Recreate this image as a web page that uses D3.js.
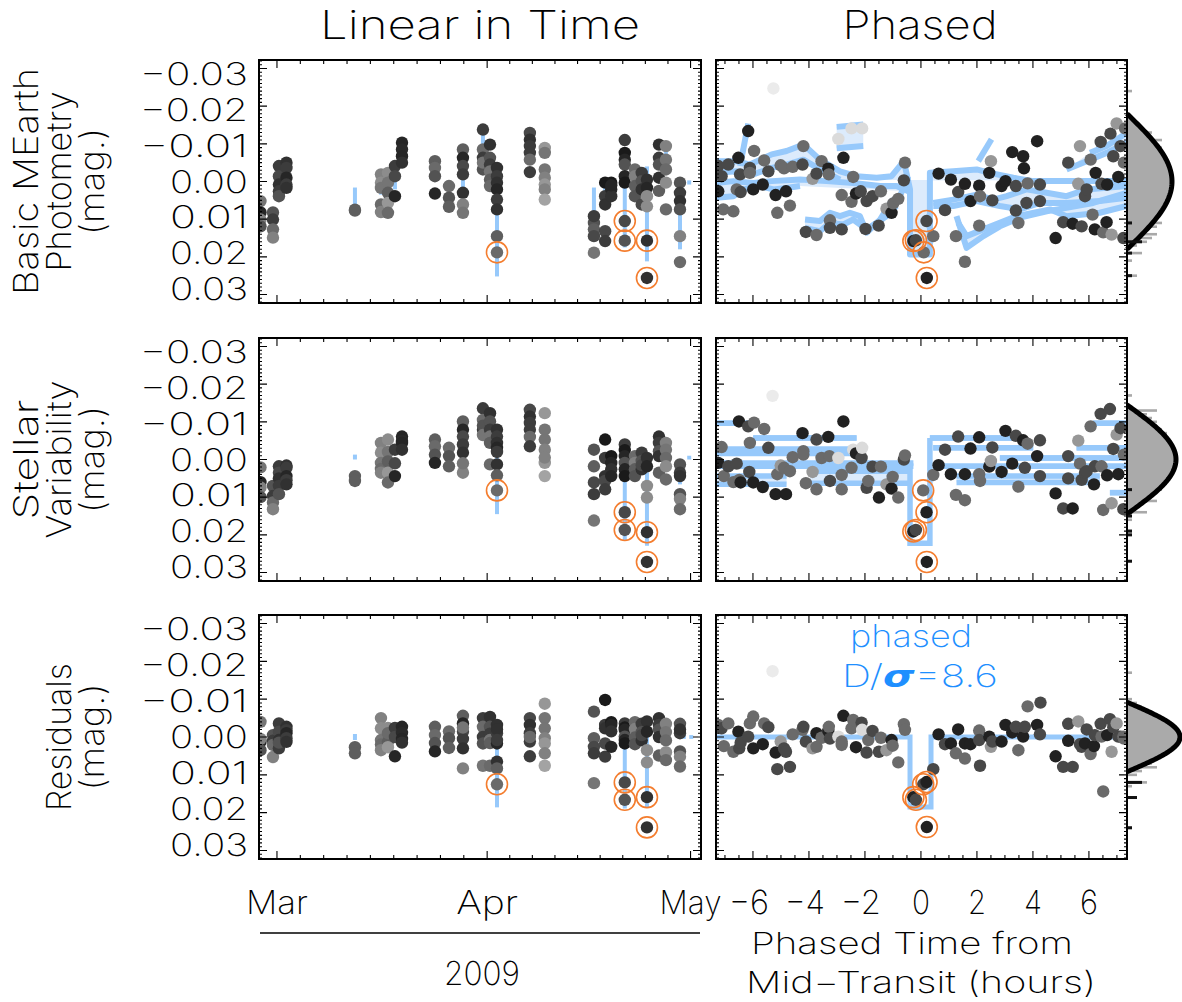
<!DOCTYPE html>
<html><head><meta charset="utf-8">
<script src="https://cdn.jsdelivr.net/npm/d3@7"></script>
<style>
body{margin:0;background:#fff}
svg text{font-family:Inter,Roboto,"DejaVu Sans",sans-serif;font-weight:200;fill:#000}
</style></head><body>
<svg id="c" width="1182" height="1002"></svg>
<script>
// ---------------- DATA (magnitudes in mmag, time in days from 2009-03-01, phase in hours) -------------
const nightDay = [-2.43,-0.59,0.29,1.40,11.5,15.34,16.37,17.4,18.44,23.3,25.37,27.43,30.38,31.42,32.45,37.3,39.5,46.75,48.4,49.3,51.3,52.8,53.8,54.57,56.34,57.37,59.44];
const basicMag = [
 [5.2,8.2,10.1,11.9],[8.2,10.1,12.7,14.9],[-4.1,-1.4,0.8,2.6,3.9],[-5.0,-3.6,-1.0,0.8,1.7],[7.5,7.7],
 [-1.9,0.3,1.7,6.1,8.1],[-2.3,0.3,3.0,5.7,8.3],[-4.1,-1.4,3.9],[-10.3,-8.5,-6.7,-5.0],[-5.4,-3.6,-1.4,3.2],
 [1.2,4.3,6.7],[-8.5,-6.3,-4.1,-1.9,3.0,6.1,8.3],[-13.8,-8.5,-6.3,-3.2,-5.0],[-9.8,-6.3,-4.5,-2.7,-0.5,1.2],
 [-3.6,-1.4,0.3,2.1,4.8,7.4,14.5,18.8],[-12.9,-11.1,-9.4,-7.6,-5.8,-2.5],[-8.9,-7.6,-3.2,-1.0,0.8,2.1,4.8],
 [11.0,12.7,14.5,18.9,9.2],[0.3,3.9,6.1,13.2,15.8],[0.3,2.1,3.9,1.0],[-11.0,-7.6,-5.8,-4.5,-1.4,0.3,10.5,15.7],
 [-3.2,-1.4,1.2,3.9],[-2.3,-0.1,2.1,6.1],[-0.5,1.7,3.9,6.6,15.7,25.6],[-9.8,-6.3,-4.5,-1.0,2.5],
 [-9.4,-5.8,-3.2,0.3,7.4],[0.3,3.0,5.2,7.4,14.5,21.4]];
const stellarMag = [
 [2.1,6.0,7.4,10.0],[7.0,9.7,11.4,13.2],[1.8,3.5,5.0,7.0,9.2],[1.6,2.2,4.4,5.5,6.6],[4.4,5.7],
 [-4.4,-1.8,0.9,2.5,3.5],[-5.3,-2.0,0.5,3.5,6.1],[-2.6,1.0,4.4],[-6.1,-5.0,-4.4,-2.6],[-5.3,-3.5,-1.3,0.9],
 [-3.1,-0.9,1.8],[-10.1,-7.9,-6.1,-4.0,-1.8,3.5,1.0],[-13.6,-10.5,-7.9,-9.0,-6.5],[-12.3,-10.1,-7.9,-6.1,-4.4,1.3],
 [-7.9,-6.1,-4.4,-3.1,-2.0,1.3,4.2,8.2],[-13.2,-11.4,-9.7,-7.9,-6.0,-3.5],[-12.3,-7.9,-5.3,-2.6,0.9,-0.5,4.4],
 [-2.6,1.8,6.1,16.2,9.2],[-5.3,-0.4,4.4,5.7,7.9],[-0.9,0.9,2.6,4.4],[-4.0,-2.5,-0.9,0.9,2.6,4.4,14.0,18.7],
 [-0.9,0.9,2.6,4.4],[-1.8,0.4,2.6,1.5],[-0.4,1.8,7.0,10.1,19.3,27.2],[-6.1,-4.4,-2.2,-0.9,3.5],
 [-4.4,-2.6,-0.4,1.8,5.3],[1.3,3.5,4.4,9.2,10.5,13.2]];
const residMag = [
 [-4.0,1.3,0.5,3.5],[-0.5,1.0,2.1,5.3],[-3.6,-1.4,0.8,3.0,1.5],[-2.7,-1.8,-1.0,0.3,1.3],[2.7,4.3],
 [-5.0,-2.3,0.8,2.0,3.5],[-2.4,0.0,1.2,2.7,-1.0],[-2.4,0.0,5.1],[-2.7,-1.1,0.5,1.5],[-2.7,-0.5,1.6,3.8],
 [-1.5,0.3,2.9],[-5.6,-3.6,-1.4,0.5,3.0,8.3,-2.5],[-5.0,-2.7,0.0,1.7,7.6],[-5.3,-2.7,-0.9,0.8,1.6,7.6],
 [-3.2,-1.0,-2.0,1.7,0.8,6.5,8.3,12.5],[-5.0,-3.2,-1.0,1.2,0.0,5.1],[-8.8,-5.0,-2.3,0.3,1.7,4.3,7.6],
 [-6.7,0.3,2.6,12.2,4.3],[-9.8,-3.2,-2.3,1.7,5.2],[-3.9,-3.2,-1.5,2.6],[-3.6,-2.5,-1.9,-0.1,0.8,1.7,12.0,16.6],
 [-3.9,-2.1,0.1,1.9],[-3.5,-1.3,0.9,-0.5],[-4.1,-1.4,3.5,6.7,15.9,23.9],[-5.0,-3.2,-1.9,0.0,4.9],
 [-3.5,-1.3,0.9,4.0,6.1],[-3.5,-1.0,-2.0,3.8,5.2,7.8]];
const pointShade = [
 [0.45,0.1,0.5,0.3],[0.3,0.2,0.4,0.5],[0.2,0.25,0.15,0.2,0.3],[0.15,0.2,0.1,0.2,0.15],[0.35,0.35],
 [0.5,0.55,0.45,0.4,0.5],[0.55,0.45,0.35,0.6,0.4],[0.2,0.25,0.1],[0.1,0.12,0.1,0.15],[0.35,0.4,0.3,0.1],
 [0.4,0.3,0.35],[0.35,0.1,0.25,0.2,0.15,0.5,0.45],[0.2,0.4,0.2,0.3,0.45],[0.15,0.3,0.2,0.45,0.35,0.4],
 [0.15,0.2,0.15,0.1,0.2,0.15,0.35,0.4],[0.25,0.15,0.2,0.2,0.4,0.2],[0.6,0.45,0.45,0.5,0.6,0.5,0.65],
 [0.3,0.35,0.25,0.45,0.2],[0.05,0.2,0.15,0.25,0.2],[0.05,0.1,0.15,0.1],[0.2,0.05,0.1,0.3,0.1,0.05,0.25,0.3],
 [0.4,0.5,0.35,0.3],[0.2,0.3,0.15,0.25],[0.15,0.1,0.55,0.55,0.15,0.15],[0.15,0.2,0.3,0.15,0.35],
 [0.5,0.45,0.4,0.55,0.4],[0.3,0.2,0.15,0.3,0.5,0.4]];
// in-transit points: [night index, point index]
const circled = [[14,7],[20,6],[20,7],[23,4],[23,5]];

// time-domain model segments: day, low, high (mmag)
const modelDay1 = [-2.43,-0.59,11.5,15.34,16.37,17.4,27.43,30.38,32.45,39.8,46.75,48.4,51.3,54.57,57.37,59.44,60.8];
const modelLo1  = [6.1,8.8,1.6,0.8,-0.5,-1.9,-5.0,-14.6,-1.3,-3.7,1.6,-1.1,0.3,-4.0,-8.5,0.3,-0.3];
const modelHi1  = [13.3,15.4,6.1,3.5,4.8,2.1,2.9,-8.5,25.2,-0.5,15.4,4.8,17.5,21.2,-1.9,18.0,0.8];
const modelDay2 = [11.5,27.43,32.45,39.8,49.3,51.3,54.57,59.44,60.8];
const modelLo2  = [-1.3,-3.7,-1.3,-3.4,-0.5,4.5,3.4,3.9,-1.0];
const modelHi2  = [0.0,-2.6,14.5,-2.4,0.5,21.6,22.9,6.6,0.0];
const modelDay3 = [11.5,32.45,39.8,51.3,54.57,60.0,61.1];
const modelLo3  = [-0.8,2.7,-0.5,2.7,0.0,-0.5,-0.5];
const modelHi3  = [0.8,18.6,0.5,18.9,18.6,0.5,0.5];

// phased points: [hours, mmag, shade]
const phased1 = [[-7.24,-4.1,.25],[-7.24,2.6,.08],[-7.12,-1.4,.25],[-7.06,7.4,.4],[-6.88,-4.5,.25],[-6.70,7.9,.4],[-6.58,2.1,.4],[-6.52,-6.3,.08],[-6.46,-1.9,.25],[-6.44,2.8,.25],[-6.17,-13.4,.08],[-6.11,-3.6,.25],[-6.11,-2.3,.4],[-5.99,2.1,.08],[-5.96,-8.1,.4],[-5.65,0.8,.08],[-5.60,-5.6,.4],[-5.45,-2.7,.25],[-5.27,-24.7,.97],[-5.19,3.6,.08],[-5.13,8.3,.4],[-5.01,-4.3,.4],[-4.89,-3.5,.4],[-4.82,2.6,.08],[-4.68,6.4,.4],[-4.58,-3.9,.4],[-4.23,-4.5,.25],[-4.20,-9.4,.4],[-4.11,13.4,.25],[-3.87,-0.7,.6],[-3.73,-2.1,.25],[-3.73,14.2,.4],[-3.55,-5.4,.4],[-3.31,-3.4,.08],[-3.29,-1.9,.4],[-3.25,10.3,.4],[-3.25,12.3,.25],[-2.95,-11.3,.9],[-2.83,3.6,.4],[-2.83,12.7,.25],[-2.77,-6.3,.08],[-2.48,-14.1,.9],[-2.48,5.4,.4],[-2.42,-1.2,.4],[-2.32,3.2,.08],[-2.15,2.6,.25],[-2.10,-14.1,.9],[-1.98,12.6,.25],[-1.94,5.2,.25],[-1.73,3.9,.25],[-1.51,11.7,.25],[-1.43,2.6,.4],[-1.23,7.2,.6],[-1.05,8.3,.08],[-0.99,5.8,.4],[-0.81,4.6,.4],[-0.61,-0.3,.25],[-0.57,-5.0,.4],[0.44,14.5,.4],[0.63,-2.1,.08],[0.86,7.6,.25],[1.07,-0.5,.08],[1.25,14.5,.4],[1.33,2.8,.25],[1.57,0.6,.08],[1.57,21.3,.4],[1.77,5.2,.08],[2.08,1.1,.08],[2.08,11.7,.4],[2.11,3.9,.4],[2.44,-2.3,.08],[2.50,-5.4,.6],[2.55,5.0,.25],[2.88,1.2,.08],[3.02,-0.1,.08],[3.26,-7.8,.08],[3.39,1.2,.25],[3.39,7.7,.25],[3.48,11.0,.4],[3.65,-6.7,.08],[3.68,-3.5,.08],[3.77,5.7,.25],[3.81,0.5,.4],[4.15,-10.7,.08],[4.25,0.8,.25],[4.25,5.2,.25],[4.81,15.0,.08],[5.08,10.8,.25],[5.26,-5.0,.25],[5.42,11.2,.08],[5.62,0.6,.6],[5.68,-9.4,.6],[5.74,11.9,.25],[5.86,3.9,.25],[5.92,2.1,.25],[6.06,-5.8,.4],[6.13,8.8,.4],[6.21,12.7,.08],[6.24,-2.3,.08],[6.42,-10.5,.25],[6.45,0.6,.25],[6.51,13.5,.4],[6.63,10.8,.08],[6.65,0.8,.08],[6.77,-12.7,.25],[6.81,14.1,.6],[6.87,-6.7,.25],[6.99,-15.4,.6],[7.05,-1.2,.08],[7.13,-9.4,.25],[7.23,15.0,.25],[7.25,-5.0,.4],[7.29,-14.1,.4]];
const phased2 = [[-7.24,0.9,.08],[-7.12,-3.3,.4],[-7.04,4.4,.4],[-6.88,1.8,.25],[-6.70,6.0,.4],[-6.58,1.1,.25],[-6.50,-10.1,.08],[-6.49,5.4,.4],[-6.44,6.1,.08],[-6.17,-8.8,.25],[-6.13,3.3,.25],[-6.11,-4.4,.4],[-5.99,6.1,.08],[-5.96,-9.8,.4],[-5.65,7.3,.08],[-5.60,-8.1,.4],[-5.45,-3.1,.25],[-5.30,-16.9,.97],[-5.19,9.2,.08],[-5.13,3.9,.4],[-5.01,1.6,.6],[-4.89,2.2,.4],[-4.82,9.2,.08],[-4.68,3.1,.4],[-4.58,-0.6,.4],[-4.23,-7.0,.08],[-4.20,-2.2,.4],[-4.20,-1.3,.4],[-4.11,6.3,.4],[-3.87,3.3,.6],[-3.73,-5.3,.25],[-3.73,7.9,.4],[-3.55,-0.4,.4],[-3.31,-6.0,.08],[-3.27,-0.9,.4],[-3.25,5.7,.25],[-2.95,-0.4,.9],[-2.83,4.1,.4],[-2.83,7.9,.4],[-2.77,-10.1,.08],[-2.48,2.2,.4],[-2.42,-2.6,.9],[-2.32,-1.6,.08],[-2.12,-0.4,.25],[-2.10,-3.1,.9],[-1.94,7.5,.25],[-1.88,5.7,.4],[-1.73,1.9,.25],[-1.50,10.1,.08],[-1.43,1.9,.4],[-1.23,6.6,.6],[-1.05,7.7,.08],[-1.01,4.6,.4],[-0.81,10.1,.4],[-0.61,0.0,.25],[-0.57,-1.1,.4],[0.44,4.1,.4],[0.63,1.5,.08],[0.86,-2.6,.25],[1.07,3.9,.08],[1.25,9.4,.4],[1.33,-6.1,.25],[1.57,3.9,.08],[1.57,10.8,.4],[1.77,-2.9,.08],[2.08,-5.9,.08],[2.08,3.9,.4],[2.11,5.7,.4],[2.44,1.9,.08],[2.50,0.4,.6],[2.55,-3.2,.25],[2.88,3.3,.08],[3.02,-7.6,.08],[3.26,1.1,.08],[3.39,-6.3,.25],[3.48,7.2,.4],[3.65,-5.1,.08],[3.71,2.2,.25],[3.81,-4.2,.4],[4.15,-0.9,.08],[4.25,-5.1,.25],[4.25,4.4,.25],[4.81,9.0,.08],[5.08,13.0,.25],[5.26,-0.9,.25],[5.26,5.0,.25],[5.42,13.0,.08],[5.62,-5.0,.6],[5.68,1.1,.4],[5.74,5.4,.25],[5.86,3.5,.25],[5.92,3.1,.25],[6.06,-8.8,.4],[6.18,6.6,.08],[6.21,1.8,.25],[6.42,-12.1,.25],[6.45,1.8,.4],[6.51,13.4,.4],[6.65,4.2,.08],[6.75,-13.4,.25],[6.81,11.6,.6],[6.87,-2.8,.25],[6.99,-6.6,.6],[7.05,3.9,.08],[7.13,-8.3,.25],[7.23,13.2,.25],[7.25,-1.3,.4]];
const phased3 = [[-7.24,-3.2,.4],[-7.12,-2.3,.25],[-7.04,2.4,.4],[-6.88,-3.6,.4],[-6.70,3.9,.4],[-6.52,-1.4,.08],[-6.49,3.0,.25],[-6.44,1.5,.25],[-6.17,-0.1,.25],[-6.11,-3.6,.4],[-5.99,-5.4,.4],[-5.99,3.0,.08],[-5.65,1.9,.08],[-5.60,-3.6,.4],[-5.45,-2.6,.25],[-5.30,-17.4,.97],[-5.19,4.1,.08],[-5.13,8.5,.25],[-5.01,1.2,.6],[-4.89,3.0,.25],[-4.82,3.9,.25],[-4.68,7.9,.25],[-4.58,-0.7,.4],[-4.23,-1.9,.4],[-4.20,-2.7,.25],[-4.11,1.2,.25],[-3.87,3.0,.6],[-3.73,-1.0,.08],[-3.73,2.6,.4],[-3.55,0.2,.4],[-3.31,-1.6,.08],[-3.29,-2.7,.4],[-3.25,0.4,.25],[-2.95,-0.1,.9],[-2.83,1.2,.4],[-2.83,2.1,.4],[-2.77,-5.6,.08],[-2.48,-2.3,.4],[-2.42,-4.5,.4],[-2.32,2.7,.08],[-2.12,-3.8,.25],[-2.10,-1.9,.9],[-1.94,4.1,.25],[-1.88,0.8,.4],[-1.73,-1.6,.25],[-1.50,3.9,.25],[-1.43,0.2,.4],[-1.23,3.5,.6],[-1.05,0.8,.08],[-1.01,2.3,.4],[-0.81,6.7,.4],[-0.61,-3.4,.4],[-0.57,-1.9,.4],[0.44,8.5,.25],[0.63,-0.7,.08],[0.86,1.9,.25],[1.07,1.7,.08],[1.25,4.3,.4],[1.33,-2.0,.08],[1.57,5.7,.4],[1.57,1.7,.08],[1.77,1.9,.08],[2.08,-1.7,.4],[2.08,0.8,.25],[2.11,7.6,.25],[2.44,-0.1,.08],[2.50,2.6,.6],[2.55,1.2,.25],[2.88,1.2,.08],[3.02,-3.2,.08],[3.26,-1.2,.08],[3.39,-2.7,.25],[3.48,3.5,.4],[3.65,-0.1,.08],[3.71,-2.7,.25],[3.81,-8.1,.4],[4.15,-3.2,.08],[4.25,-0.7,.25],[4.27,-9.1,.25],[4.81,5.1,.08],[5.08,7.9,.25],[5.26,-3.5,.25],[5.26,1.0,.08],[5.42,7.9,.25],[5.62,-4.1,.6],[5.68,1.9,.25],[5.74,2.6,.25],[5.86,1.7,.08],[5.92,-2.0,.25],[6.06,4.5,.4],[6.18,2.4,.08],[6.21,-0.5,.25],[6.42,-3.5,.25],[6.45,-0.1,.4],[6.51,14.4,.4],[6.65,-0.5,.08],[6.75,-4.7,.25],[6.81,3.9,.6],[6.87,-2.6,.25],[6.99,-3.6,.6],[7.05,-0.1,.25],[7.13,-0.1,.25],[7.23,-0.1,.4],[7.25,0.4,.4]];
const transit1 = [[-0.27,15.8,.08],[-0.18,15.6,.25],[0.10,18.8,.4],[0.20,10.5,.25],[0.21,25.6,.08]];
const transit2 = [[-0.27,19.1,.08],[-0.18,18.7,.25],[0.08,8.2,.4],[0.20,14.0,.08],[0.21,27.2,.08]];
const transit3 = [[-0.27,15.9,.08],[-0.18,16.6,.25],[0.08,12.5,.25],[0.20,11.9,.08],[0.21,23.8,.08]];

// phased models (hours, mmag)
const phModel1 = [
 [[-7.30,-5.4],[-6.58,-5.4],[-6.11,-4.5],[-5.33,-7.2],[-4.80,-8.1],[-4.20,-9.8],[-3.61,-5.8],[-2.89,-2.7],[-2.30,-1.4],[-1.58,-1.0],[-1.05,-1.4],[-0.61,-5.4],[-0.39,2.1],[-0.39,19.4],[0.32,19.4],[0.32,-2.3],[1.15,-2.7],[1.99,-3.2],[2.46,-2.3],[3.30,-1.0],[4.01,-0.1],[5.20,-0.1],[7.35,-0.1]],
 [[-7.30,0.4],[-6.70,-0.1],[-5.99,0.4],[-5.33,-0.1],[-4.32,-0.5],[-3.37,-0.1],[-2.42,0.4],[-1.46,1.2],[-0.87,1.2],[-0.45,2.6]],
 [[-7.30,4.3],[-6.70,3.9],[-6.35,2.1],[-5.75,1.2],[-5.27,2.1],[-4.80,1.7],[-4.32,1.2]],
 [[-4.14,10.1],[-3.61,10.5],[-3.25,8.3],[-2.89,9.2],[-2.54,8.3],[-2.18,9.2],[-1.94,13.6],[-1.46,10.1],[-1.05,5.2],[-0.75,3.9],[-0.45,-1.4]],
 [[-4.14,12.3],[-3.61,13.2],[-3.25,11.0],[-2.77,11.4],[-2.42,10.1],[-1.94,12.7],[-1.23,9.2],[-0.87,6.5]],
 [[0.44,5.7],[1.15,4.8],[1.99,3.5],[2.58,4.8],[3.06,3.9],[3.77,2.1],[4.49,3.0],[5.20,3.9],[5.92,2.1],[7.35,1.2]],
 [[0.44,6.5],[1.15,6.5],[1.99,5.2],[2.82,6.5],[3.54,7.4],[4.25,5.7],[5.20,5.7],[6.39,5.2],[7.35,4.3]],
 [[1.27,9.2],[1.63,17.6],[2.23,14.5],[2.82,11.9],[3.54,9.6],[4.49,7.9],[5.20,7.0],[6.15,5.7],[7.35,3.0]],
 [[1.33,11.0],[1.63,14.5],[2.23,12.7],[3.42,9.2],[4.61,7.4],[5.20,9.2],[6.39,8.3],[7.35,6.5]],
 [[2.05,-5.4],[2.52,-11.2]],
 [[5.20,-3.2],[5.92,-5.4],[6.63,-7.6],[7.35,-10.3]],
 [[6.04,-7.6],[6.63,-9.4],[7.35,-12.9]],
 [[-3.01,-14.5],[-2.06,-15.1]],
 [[-3.01,-8.8],[-2.06,-9.4]],
 [[-6.46,-4.1],[-6.17,-15.4]],
 [[-7.30,-2.3],[-6.58,-2.7],[-5.99,-1.9],[-5.33,-3.6],[-4.80,-4.5],[-4.20,-5.8],[-3.61,-3.2],[-2.89,-0.5]]];
const phFillPairs1 = [[3,4],[5,6],[7,8],[10,11],[12,13],[1,2],[0,15]];
// [start h, end h, low, high]
const phBands2 = [[-7.30,-6.11,-9.6,-9.6],[-5.99,-2.30,-5.7,-5.7],[-7.30,-2.42,-2.8,-1.6],[-7.30,-0.27,0.9,1.8],[-7.30,-4.80,4.4,6.6],[-3.96,-0.39,3.1,6.3],[0.32,3.65,-5.7,-5.7],[0.44,4.01,-3.1,-3.1],[2.82,7.35,-0.4,-0.4],[0.44,7.35,1.8,1.8],[1.27,6.39,4.4,6.1],[5.56,7.35,-3.1,-3.1],[6.15,7.35,-9.6,-9.6],[6.75,7.35,8.8,8.8]];
const phDip2 = [[-0.39,0.9],[-0.39,22.2],[0.32,22.2],[0.32,-5.7]];
const phModel3 = [[-7.33,0],[-0.39,0],[-0.39,18.5],[0.36,18.5],[0.36,0],[7.36,0]];

// histograms: bin centre (mmag) and counts
const histBin1 = [-24,-13,-12,-11,-10,-9,-8,-7,-6,-5,-4,-3,-2,-1,0,1,2,3,4,5,6,7,8,9,10,11,12,13,14,15,16,17,19,21,25];
const histCnt1 = [1,5,4,7,6,7,7,6,7,8,8,8,9,9,9,9,8,8,8,7,7,7,6,6,5,7,6,4,6,5,4,2,3,1,2];
const histBin2 = [-17,-13,-12,-11,-10,-9,-8,-7,-6,-5,-4,-3,-2,-1,0,1,2,3,4,5,6,7,8,9,10,11,12,13,14,15,16,19];
const histCnt2 = [1,6,4,5,6,6,7,8,8,8,9,9,9,9,9,9,9,8,8,7,7,6,7,5,5,6,3,2,4,1,1,1];
const histBin3 = [-17,-10,-9,-8,-7,-6,-5,-4,-3,-2,-1,0,1,2,3,4,5,6,7,8,9,10,12,13,16,24];
const histCnt3 = [1,1,2,3,4,6,7,8,9,10,10,11,10,10,9,8,7,6,5,6,3,2,4,1,2,1];
const trHistBin1 = [11,16,19,25], trHistCnt1 = [1,3,1,1];
const trHistBin2 = [8,15,19,20,27], trHistCnt2 = [1,1,1,1,1];
const trHistBin3 = [12,16,24], trHistCnt3 = [3,2,1];
const gaussHalf = [18.0,14.5,9.2];   // mmag, half extent of fitted curve
const gaussPeak = [9.0,9.8,10.6];    // counts

const yTickVals = [-30,-20,-10,0,10,20,30];
const phTickVals = [-6,-4,-2,0,2,4,6];
const monthLabels = ["Mar","Apr","May"];
const rowLabels = [["Basic MEarth","Photometry","(mag.)"],["Stellar","Variability","(mag.)"],["Residuals","(mag.)"]];

// ---------------- DRAWING ----------------
const svg = d3.select("#c");
const defs = svg.append("defs");
const rows = [{t:60,b:303},{t:338,b:581},{t:615,b:859}];
const LX=[259,701], RX=[716,1127];
const dayToDate = d => new Date(Date.UTC(2009,2,1) + d*864e5);
const xTime = d3.scaleUtc().domain([dayToDate(-2.65), dayToDate(62.54)]).range(LX);
const xPh = d3.scaleLinear().domain([-7.32,7.36]).range(RX);
const gray = d3.scaleLinear().domain([0,1]).range(["#0f0f0f","#f2f2f2"]);
const xH = d3.scaleLinear().domain([0,11]).range([1127,1182]);
const BLUE="#97c9fb", PALE="#dcebfc", ORANGE="#f47d2e";
const tx = d => xTime(dayToDate(d));

const months = d3.utcMonth.range(dayToDate(-40), dayToDate(70));
const xD = xTime.domain();
const tMaj = months.filter(m => m>=xD[0] && m<=xD[1]).map(m=>xTime(m));
const tMin = [];
for (let k=0;k<months.length-1;k++){const a=+months[k], b=+months[k+1];
  for (let j=1;j<9;j++){const t=new Date(a+(b-a)*j/9); if(t>=xD[0]&&t<=xD[1]) tMin.push(xTime(t));}}
const pMaj = phTickVals.map(xPh);
const pMin = d3.range(-7,7.01,0.5).filter(v=>Math.abs(v%2)>0.01).map(xPh);

function frame(x0,x1,y0,y1,y,xMaj,xMin){
  let p="";
  for(let v=-32;v<=32;v++){const yy=y(v); const L=(v%10===0)?8:3;
    p+=`M${x0},${yy}h${L}M${x1},${yy}h${-L}`;}
  xMaj.forEach(x=>{p+=`M${x},${y0}v8M${x},${y1}v-8`;});
  xMin.forEach(x=>{p+=`M${x},${y0}v4M${x},${y1}v-4`;});
  svg.append("path").attr("d",p).attr("stroke","#000").attr("stroke-width",1.1).attr("fill","none");
  svg.append("rect").attr("x",x0).attr("y",y0).attr("width",x1-x0).attr("height",y1-y0)
    .attr("fill","none").attr("stroke","#000").attr("stroke-width",2);
}
function dots(g, data, fx, fy, fs){
  g.selectAll(null).data(data).join("circle").attr("cx",fx).attr("cy",fy).attr("r",6.2).attr("fill",fs);
}
function rings(g, data, fx, fy){
  g.selectAll(null).data(data).join("circle").attr("cx",fx).attr("cy",fy).attr("r",10.5)
   .attr("fill","none").attr("stroke",ORANGE).attr("stroke-width",1.6);
}
const line = d3.line();
const models = [[modelDay1,modelLo1,modelHi1],[modelDay2,modelLo2,modelHi2],[modelDay3,modelLo3,modelHi3]];
const magsAll = [basicMag, stellarMag, residMag];
const phasedAll = [phased1, phased2, phased3];
const transitAll = [transit1, transit2, transit3];
const hists = [[histBin1,histCnt1,trHistBin1,trHistCnt1],[histBin2,histCnt2,trHistBin2,trHistCnt2],[histBin3,histCnt3,trHistBin3,trHistCnt3]];
const lens = {"Basic MEarth":227,"Photometry":180,"(mag.)":107,"Stellar":120,"Variability":158,"Residuals":148};

rows.forEach((r,i)=>{
  const y = d3.scaleLinear().domain([-32.25,32.25]).range([r.t,r.b]);
  defs.append("clipPath").attr("id","cl"+i).append("rect").attr("x",LX[0]).attr("y",r.t).attr("width",LX[1]-LX[0]).attr("height",r.b-r.t);
  defs.append("clipPath").attr("id","cr"+i).append("rect").attr("x",RX[0]).attr("y",r.t).attr("width",RX[1]-RX[0]).attr("height",r.b-r.t);

  // ---- left: linear in time
  const gl = svg.append("g").attr("clip-path",`url(#cl${i})`);
  const [md,mlo,mhi] = models[i];
  gl.selectAll(null).data(md).join("line").attr("x1",tx).attr("x2",tx)
    .attr("y1",(d,k)=>y(mlo[k])).attr("y2",(d,k)=>y(mhi[k])).attr("stroke",BLUE).attr("stroke-width",4);
  const mags = magsAll[i]; const pts=[];
  nightDay.forEach((d,n)=>mags[n].forEach((m,k)=>pts.push({d,m,s:pointShade[n][k]})));
  dots(gl, pts, p=>tx(p.d), p=>y(p.m), p=>gray(p.s));
  rings(gl, circled.map(([n,k])=>({d:nightDay[n],m:mags[n][k]})), p=>tx(p.d), p=>y(p.m));

  // ---- right: phased
  const gr = svg.append("g").attr("clip-path",`url(#cr${i})`);
  const P = ([h,m]) => [xPh(h), y(m)];
  if(i===0){
    phFillPairs1.forEach(([a,b])=>{
      const poly = phModel1[a].map(P).concat(phModel1[b].slice().reverse().map(P));
      gr.append("path").attr("d","M"+poly.join("L")+"Z").attr("fill",PALE);
    });
    phModel1.forEach(pl=>gr.append("path").attr("d",line(pl.map(P))).attr("fill","none")
      .attr("stroke",BLUE).attr("stroke-width",6).attr("stroke-linejoin","round"));
  } else if(i===1){
    phBands2.forEach(([h0,h1,lo,hi])=>{
      if(hi>lo) gr.append("rect").attr("x",xPh(h0)).attr("width",xPh(h1)-xPh(h0)).attr("y",y(lo)).attr("height",y(hi)-y(lo)).attr("fill",PALE);
      [lo,hi].forEach(v=>gr.append("line").attr("x1",xPh(h0)).attr("x2",xPh(h1)).attr("y1",y(v)).attr("y2",y(v)).attr("stroke",BLUE).attr("stroke-width",5.5));
    });
    gr.append("path").attr("d",line(phDip2.map(P))).attr("fill","none").attr("stroke",BLUE).attr("stroke-width",5.5);
  } else {
    gr.append("path").attr("d",line(phModel3.map(P))).attr("fill","none").attr("stroke",BLUE).attr("stroke-width",5);
  }
  dots(gr, phasedAll[i], d=>xPh(d[0]), d=>y(d[1]), d=>gray(d[2]));
  dots(gr, transitAll[i], d=>xPh(d[0]), d=>y(d[1]), d=>gray(d[2]));
  rings(gr, transitAll[i], d=>xPh(d[0]), d=>y(d[1]));

  // ---- histogram + fitted curve
  const [hb,hc,tb,tc] = hists[i];
  svg.selectAll(null).data(hb).join("rect").attr("x",1127).attr("y",d=>y(d)-1.3)
    .attr("width",(d,k)=>xH(hc[k])-1127).attr("height",2.6).attr("fill","#a9a9a9");
  const w=gaussHalf[i], A=gaussPeak[i], e0=Math.exp(-0.5);
  const gv = d3.range(-w, w+0.001, w/40);
  const gp = gv.map(v=>[xH(A*(Math.exp(-v*v/(2*w*w))-e0)/(1-e0)), y(v)]);
  svg.append("path").attr("d","M"+gp.join("L")+"Z").attr("fill","#aaaaaa");
  svg.append("path").attr("d",line(gp)).attr("fill","none").attr("stroke","#000").attr("stroke-width",5).attr("stroke-linejoin","round");
  svg.selectAll(null).data(tb).join("rect").attr("x",1127).attr("y",d=>y(d)-1.5)
    .attr("width",(d,k)=>xH(tc[k])-1127).attr("height",3).attr("fill","#111");

  frame(LX[0],LX[1],r.t,r.b,y,tMaj,tMin);
  frame(RX[0],RX[1],r.t,r.b,y,pMaj,pMin);

  // y tick labels (spread evenly inside the panel height, as in the original)
  const step = (r.b - r.t - 28)/(yTickVals.length-1);
  yTickVals.forEach((v,k)=>{
    const lab = (v<0?"\u2212":"")+(Math.abs(v)/1000).toFixed(2);
    svg.append("text").attr("x",248).attr("y",r.t+14+k*step+11).attr("text-anchor","end")
      .attr("font-size",31).attr("textLength",v<0?108:78).attr("lengthAdjust","spacingAndGlyphs").text(lab);
  });
  const labs = rowLabels[i]; const cy=(r.t+r.b)/2;
  labs.forEach((t,k)=>{
    const bx = 104 - 33*(labs.length-1-k);
    svg.append("text").attr("transform",`translate(${bx},${cy}) rotate(-90)`).attr("text-anchor","middle")
      .attr("font-size",34).attr("textLength",lens[t]).attr("lengthAdjust","spacingAndGlyphs").text(t);
  });
});

// phased annotation
svg.append("text").attr("x",911).attr("y",647).attr("text-anchor","middle").attr("font-size",31)
  .attr("textLength",122).attr("lengthAdjust","spacingAndGlyphs").style("fill","#1e8fff").text("phased");
const dt = svg.append("text").attr("x",920).attr("y",687).attr("text-anchor","middle").attr("font-size",31)
  .attr("textLength",156).attr("lengthAdjust","spacingAndGlyphs").style("fill","#1e8fff");
dt.append("tspan").text("D/");
dt.append("tspan").attr("font-weight","bold").attr("font-style","italic").style("font-family","'DejaVu Sans',sans-serif").style("fill","#1e8fff").text("\u03c3");
dt.append("tspan").text("=8.6");

// titles
svg.append("text").attr("x",480).attr("y",39).attr("text-anchor","middle").attr("font-size",40)
  .attr("textLength",320).attr("lengthAdjust","spacingAndGlyphs").text("Linear in Time");
svg.append("text").attr("x",920).attr("y",39).attr("text-anchor","middle").attr("font-size",40)
  .attr("textLength",155).attr("lengthAdjust","spacingAndGlyphs").text("Phased");

// bottom axis labels
tMaj.forEach((x,k)=>svg.append("text").attr("x",x).attr("y",914).attr("text-anchor","middle").attr("font-size",33)
  .attr("textLength",62).attr("lengthAdjust","spacingAndGlyphs").text(monthLabels[k]));
phTickVals.forEach(v=>svg.append("text").attr("x",xPh(v)-(v<0?4:0)).attr("y",914).attr("text-anchor","middle").attr("font-size",33)
  .attr("textLength",v<0?40:18).attr("lengthAdjust","spacingAndGlyphs").text((v<0?"\u2212":"")+Math.abs(v)));
svg.append("line").attr("x1",260).attr("x2",700).attr("y1",933).attr("y2",933).attr("stroke","#000").attr("stroke-width",1.5);
svg.append("text").attr("x",482).attr("y",985).attr("text-anchor","middle").attr("font-size",33)
  .attr("textLength",76).attr("lengthAdjust","spacingAndGlyphs").text("2009");
svg.append("text").attr("x",912).attr("y",954).attr("text-anchor","middle").attr("font-size",30)
  .attr("textLength",322).attr("lengthAdjust","spacingAndGlyphs").text("Phased Time from");
svg.append("text").attr("x",921).attr("y",993).attr("text-anchor","middle").attr("font-size",30)
  .attr("textLength",350).attr("lengthAdjust","spacingAndGlyphs").text("Mid\u2212Transit (hours)");
</script>
</body></html>
